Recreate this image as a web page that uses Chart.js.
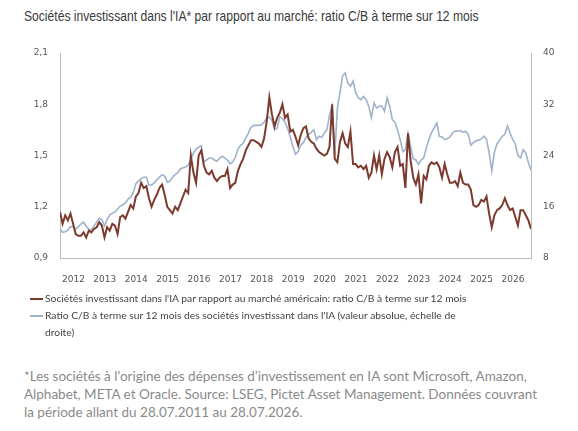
<!DOCTYPE html>
<html>
<head>
<meta charset="utf-8">
<script src="https://cdn.jsdelivr.net/npm/chart.js@4"></script>
<style>
  body { margin: 0; background: #fff; width: 578px; height: 431px; position: relative; overflow: hidden; }
  #title { position: absolute; left: 24px; top: 8px; font: 14.5px "Liberation Sans", sans-serif; color: #3a3a3a; white-space: nowrap; transform: scaleX(0.835); transform-origin: 0 0; }
  #box { position: absolute; left: 0; top: 30px; width: 578px; height: 262px; }
  #legend { position: absolute; left: 30px; top: 290px; width: 443px; font: 10.3px Lato, sans-serif; color: #444; line-height: 17px; }
  #legend div { position: relative; padding-left: 15px; }
  #legend span { position: absolute; left: 0; top: 8px; width: 13px; height: 2px; }
  #note { position: absolute; left: 24px; top: 367px; width: 540px; font: 13.5px Lato, sans-serif; color: #8a8a8a; line-height: 18px; }
</style>
</head>
<body>
<div id="title">Sociétés investissant dans l'IA* par rapport au marché: ratio C/B à terme sur 12 mois</div>
<div id="box"><canvas id="chart"></canvas></div>
<div id="legend">
  <div><span style="background:#7b3a2d"></span>Sociétés investissant dans l'IA par rapport au marché américain: ratio C/B à terme sur 12 mois</div>
  <div><span style="background:#9fb2cb"></span>Ratio C/B à terme sur 12 mois des sociétés investissant dans l'IA (valeur absolue, échelle de droite)</div>
</div>
<div id="note">*Les sociétés à l'origine des dépenses d’investissement en IA sont Microsoft, Amazon,<br>Alphabet, META et Oracle. Source: LSEG, Pictet Asset Management. Données couvrant<br>la période allant du 28.07.2011 au 28.07.2026.</div>
<script>
// monthly readings, 28.07.2011 -> 28.07.2026
const startYear = 2011 + 209 / 365;
const yearTicks = ['2012', '2013', '2014', '2015', '2016', '2017', '2018', '2019', '2020', '2021', '2022', '2023', '2024', '2025', '2026'];

// left axis: relative to US market
const relativePE = [
  1.17, 1.10, 1.15, 1.12, 1.16, 1.10, 1.04, 1.03, 1.03, 1.05,
  1.02, 1.06, 1.05, 1.07, 1.08, 1.11, 1.09, 1.02, 1.08, 1.06,
  1.10, 1.09, 1.04, 1.14, 1.15, 1.13, 1.17, 1.21, 1.19, 1.26,
  1.28, 1.34, 1.31, 1.32, 1.25, 1.20, 1.24, 1.27, 1.31, 1.33,
  1.27, 1.20, 1.18, 1.16, 1.20, 1.18, 1.22, 1.26, 1.30, 1.28,
  1.50, 1.40, 1.34, 1.50, 1.53, 1.44, 1.40, 1.39, 1.41, 1.37,
  1.35, 1.37, 1.38, 1.38, 1.42, 1.31, 1.33, 1.34, 1.41, 1.45,
  1.48, 1.53, 1.56, 1.59, 1.59, 1.58, 1.57, 1.55, 1.60, 1.70,
  1.84, 1.74, 1.67, 1.72, 1.75, 1.80, 1.72, 1.74, 1.64, 1.65,
  1.61, 1.56, 1.62, 1.66, 1.67, 1.60, 1.58, 1.57, 1.54, 1.52,
  1.51, 1.50, 1.51, 1.55, 1.80, 1.48, 1.46, 1.58, 1.63, 1.57,
  1.55, 1.64, 1.45, 1.45, 1.43, 1.44, 1.42, 1.44, 1.37, 1.40,
  1.50, 1.42, 1.50, 1.39, 1.48, 1.52, 1.49, 1.43, 1.52, 1.55,
  1.44, 1.45, 1.31, 1.63, 1.47, 1.37, 1.33, 1.39, 1.22, 1.38,
  1.36, 1.44, 1.46, 1.45, 1.46, 1.43, 1.37, 1.45, 1.39, 1.34,
  1.34, 1.35, 1.32, 1.40, 1.34, 1.33, 1.33, 1.30, 1.21, 1.20,
  1.21, 1.24, 1.23, 1.26, 1.16, 1.08, 1.15, 1.18, 1.19, 1.21,
  1.25, 1.21, 1.18, 1.19, 1.14, 1.09, 1.18, 1.18, 1.15, 1.12, 1.07
];

// right axis: absolute forward P/E
const absolutePE = [
  12.6, 12.0, 12.1, 12.3, 12.9, 12.9, 12.5, 12.9, 13.3, 13.6,
  13.0, 12.5, 12.4, 13.0, 13.6, 14.2, 14.0, 13.0, 14.0, 14.7,
  15.0, 15.2, 15.6, 16.1, 16.3, 16.6, 17.2, 17.5, 18.2, 19.6,
  20.0, 20.4, 20.6, 20.6, 19.4, 19.4, 19.7, 20.2, 20.6, 21.0,
  20.8, 19.8, 20.0, 20.6, 21.0, 21.3, 21.9, 22.1, 22.2, 22.5,
  23.4, 24.4, 25.0, 25.3, 25.5, 23.0, 23.3, 23.6, 23.6, 23.3,
  23.1, 23.6, 23.9, 23.6, 23.3, 22.7, 23.0, 23.7, 25.0, 25.6,
  25.9, 26.7, 27.5, 28.4, 28.7, 28.7, 28.7, 28.8, 29.2, 29.8,
  30.0, 29.5, 28.0, 28.3, 30.0, 29.8, 29.2, 28.2, 26.9, 25.4,
  24.2, 24.6, 25.6, 26.0, 26.8, 27.3, 27.6, 28.0, 26.5, 27.0,
  26.8, 27.5, 28.0, 30.3, 31.7, 24.0, 31.4, 33.8, 36.4, 36.9,
  35.3, 34.8, 35.6, 33.8, 33.0, 32.7, 33.2, 32.7, 31.7, 29.9,
  32.2, 31.4, 31.7, 31.7, 30.9, 33.0, 31.7, 29.6, 29.2, 28.0,
  26.5, 24.6, 24.9, 27.5, 25.4, 23.5, 23.3, 22.6, 23.3, 23.6,
  25.2, 26.5, 27.6, 28.3, 29.1, 27.0, 26.9, 26.5, 26.6, 26.9,
  27.5, 27.8, 27.8, 27.9, 27.6, 27.8, 27.3, 25.6, 26.0, 26.3,
  26.4, 26.6, 27.0, 26.5, 24.5, 21.6, 24.5, 25.8, 26.4, 27.0,
  27.3, 28.6, 27.5, 26.5, 25.8, 24.0, 23.6, 24.9, 24.4, 22.9, 21.7
];

const toPoints = arr => arr.map((v, i) => ({ x: startYear + i / 12, y: v }));
const tickFont = { family: 'DejaVu Sans', size: 9 };
const axisColor = '#bdbdbd';

new Chart(document.getElementById('chart'), {
  type: 'line',
  data: {
    datasets: [{
      label: "Sociétés investissant dans l'IA par rapport au marché américain",
      data: toPoints(relativePE),
      yAxisID: 'y',
      borderColor: '#7b3a2d',
      borderWidth: 2,
      pointRadius: 0,
      tension: 0
    }, {
      label: "Ratio C/B à terme sur 12 mois (échelle de droite)",
      data: toPoints(absolutePE),
      yAxisID: 'y1',
      borderColor: '#9fb2cb',
      borderWidth: 1.6,
      pointRadius: 0,
      tension: 0
    }]
  },
  options: {
    responsive: true,
    maintainAspectRatio: false,
    animation: false,
    layout: { padding: { top: 23, left: 0, right: 0, bottom: 0 } },
    plugins: { legend: { display: false }, tooltip: { enabled: false } },
    scales: {
      x: {
        type: 'linear',
        min: startYear,
        max: startYear + (relativePE.length - 1) / 12,
        afterBuildTicks: s => { s.ticks = yearTicks.map(t => ({ value: Number(t) })); },
        afterFit: s => { s.height = 34; },
        ticks: { callback: v => String(v), font: tickFont, color: '#555', padding: 16, maxRotation: 0, autoSkip: false },
        grid: { display: false, drawTicks: false },
        border: { color: axisColor, width: 1 }
      },
      y: {
        position: 'left',
        min: 0.9, max: 2.1,
        afterFit: s => { s.width = 60; },
        ticks: { stepSize: 0.3, callback: v => v.toFixed(1).replace('.', ','), font: tickFont, color: '#555', padding: 12 },
        grid: { display: false, drawTicks: false },
        border: { color: axisColor, width: 1 }
      },
      y1: {
        position: 'right',
        min: 8, max: 40,
        afterFit: s => { s.width = 47; },
        ticks: { stepSize: 8, font: tickFont, color: '#555', padding: 12 },
        grid: { display: false, drawTicks: false },
        border: { color: axisColor, width: 1 }
      }
    }
  }
});
</script>
</body>
</html>
